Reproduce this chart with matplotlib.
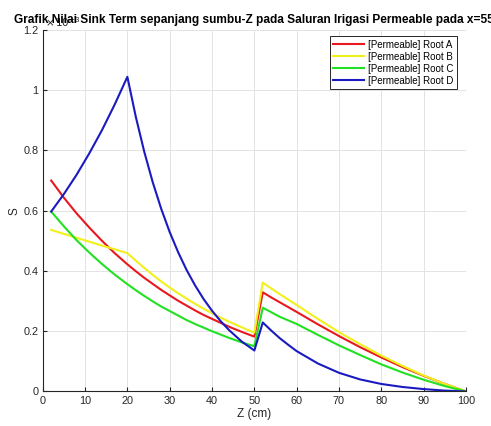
import matplotlib.pyplot as plt
import numpy as np

z = [2, 5, 8, 11, 14, 17, 20, 22, 24, 26, 28, 30, 32, 34, 36, 38, 40, 42, 44, 47, 50,
     52, 54, 56, 58, 60, 65, 70, 75, 80, 85, 90, 95, 100]

# S values in units of 1e-3
root_a = [0.700, 0.643, 0.591, 0.544, 0.500, 0.459, 0.422, 0.399, 0.377, 0.357, 0.337,
          0.319, 0.301, 0.285, 0.269, 0.254, 0.241, 0.228, 0.215, 0.198, 0.182,
          0.329, 0.312, 0.296, 0.280, 0.264, 0.223, 0.184, 0.147, 0.113, 0.081,
          0.052, 0.025, 0.0]
root_b = [0.536, 0.523, 0.510, 0.497, 0.484, 0.472, 0.459, 0.434, 0.410, 0.387, 0.365,
          0.345, 0.326, 0.308, 0.291, 0.275, 0.260, 0.245, 0.232, 0.213, 0.195,
          0.361, 0.342, 0.323, 0.305, 0.287, 0.241, 0.197, 0.157, 0.119, 0.085,
          0.053, 0.025, 0.0]
root_c = [0.597, 0.548, 0.502, 0.461, 0.423, 0.388, 0.356, 0.336, 0.317, 0.299, 0.282,
          0.267, 0.252, 0.237, 0.224, 0.212, 0.200, 0.189, 0.178, 0.163, 0.150,
          0.278, 0.263, 0.248, 0.236, 0.224, 0.188, 0.153, 0.121, 0.090, 0.063,
          0.039, 0.018, 0.0]
root_d = [0.597, 0.655, 0.719, 0.790, 0.867, 0.952, 1.044, 0.911, 0.795, 0.694, 0.606,
          0.529, 0.462, 0.403, 0.352, 0.307, 0.268, 0.234, 0.204, 0.166, 0.136,
          0.229, 0.202, 0.177, 0.155, 0.134, 0.093, 0.062, 0.040, 0.025, 0.015,
          0.008, 0.003, 0.0]

labels = ['[Permeable] Root A', '[Permeable] Root B',
          '[Permeable] Root C', '[Permeable] Root D']
warna = ['#e8191e', '#f2f01a', '#22e022', '#1a1ac0']

plt.rcParams['font.family'] = ['Liberation Sans', 'DejaVu Sans']

fig = plt.figure(figsize=(4.91, 4.26), dpi=100)
ax = fig.add_axes([0.087, 0.081, 0.862, 0.849])

for s, lab, c in zip([root_a, root_b, root_c, root_d], labels, warna):
    ax.plot(z, s, color=c, lw=1.5, label=lab)

ax.set_xlim(0, 100)
ax.set_ylim(0, 1.2)
ax.set_xticks(np.arange(0, 101, 10))
ax.set_yticks(np.arange(0, 1.21, 0.2))
ax.set_yticklabels(['0', '0.2', '0.4', '0.6', '0.8', '1', '1.2'])
ax.grid(True, color='#e3e3e3', lw=0.7)
ax.set_axisbelow(True)
for sp in ['top', 'right']:
    ax.spines[sp].set_visible(False)
for sp in ['left', 'bottom']:
    ax.spines[sp].set_color('#262626')
    ax.spines[sp].set_linewidth(0.8)
ax.tick_params(direction='in', length=3, labelsize=7.8, colors='#262626',
               labelcolor='#262626', pad=3)

ax.set_xlabel('Z (cm)', fontsize=8.5, color='#262626', labelpad=2)
ax.set_ylabel('S', fontsize=8.5, color='#262626', labelpad=2)
ax.text(0.005, 1.003, r'$\times\,10^{-3}$', transform=ax.transAxes,
        fontsize=7.5, color='#262626', ha='left', va='bottom')
ax.set_title('Grafik Nilai Sink Term sepanjang sumbu-Z pada Saluran Irigasi Permeable pada x=55',
             fontsize=8.6, fontweight='bold', pad=5)

leg = ax.legend(loc='upper right', bbox_to_anchor=(0.99, 0.995), fontsize=7,
                fancybox=False, framealpha=1, edgecolor='#262626',
                handlelength=3.2, borderpad=0.35, labelspacing=0.2,
                handletextpad=0.4)
leg.get_frame().set_linewidth(0.7)

fig.savefig('out.png', dpi=100)
